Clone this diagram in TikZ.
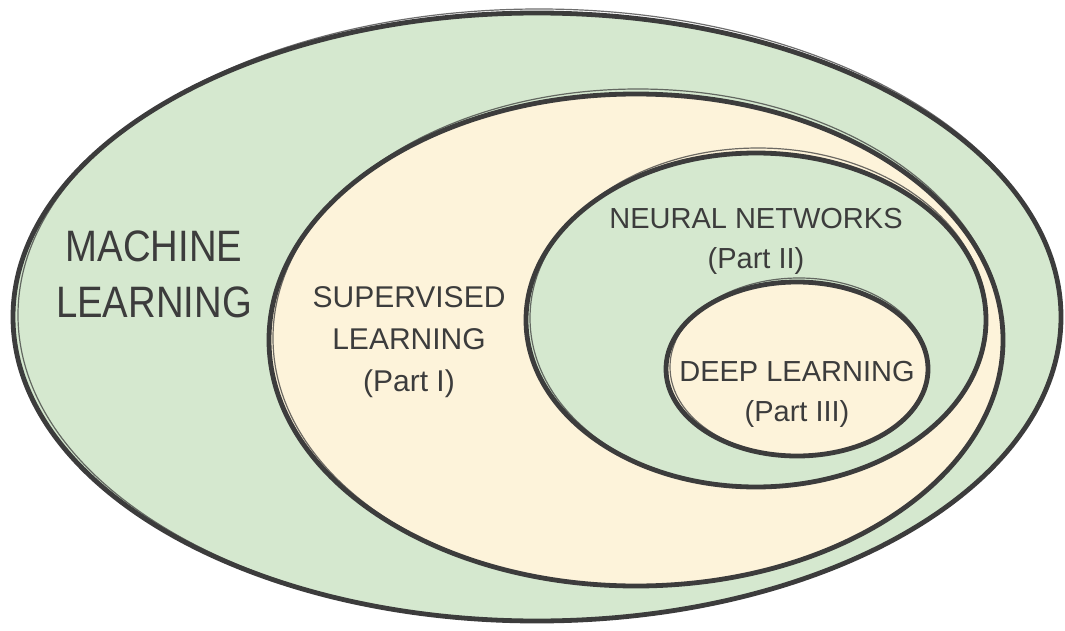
\documentclass[tikz,border=0pt]{standalone}
\usepackage{fontspec}
\setmainfont{Liberation Sans}
\definecolor{mlgreen}{HTML}{D5E8CF}
\definecolor{slcream}{HTML}{FDF3DA}
\definecolor{ink}{HTML}{3C3C3C}
\begin{document}
\begin{tikzpicture}[x=1pt,y=-1pt,
  rim/.style={draw=ink,line width=4.8pt},
  sketch/.style={draw=ink,line width=1.2pt,opacity=0.75},
  biglabel/.style={text=ink,align=center,font=\fontsize{44}{56}\selectfont,xscale=0.87,transform shape},
  label/.style={text=ink,align=center,font=\fontsize{29}{40}\selectfont},
  sllabel/.style={text=ink,align=center,font=\fontsize{30}{42}\selectfont}]
\useasboundingbox (0,0) rectangle (1065,631);
% outer: machine learning
\fill[mlgreen] (537,317) ellipse [x radius=524,y radius=304];
\draw[rim] (537,317) ellipse [x radius=524,y radius=304];
\draw[sketch] (539,315) ellipse [x radius=521,y radius=306];
% supervised learning
\fill[slcream] (636,340) ellipse [x radius=367,y radius=246];
\draw[rim] (636,340) ellipse [x radius=367,y radius=246];
\draw[sketch] (638,338) ellipse [x radius=365,y radius=249];
% neural networks
\fill[mlgreen] (756,320) ellipse [x radius=230,y radius=167];
\draw[rim] (756,320) ellipse [x radius=230,y radius=167];
\draw[sketch] (758,318) ellipse [x radius=228,y radius=170];
% deep learning
\fill[slcream] (797,369) ellipse [x radius=131,y radius=87];
\draw[rim] (797,369) ellipse [x radius=131,y radius=87];
\draw[sketch] (799,367) ellipse [x radius=129,y radius=89];
% labels
\node[biglabel] (ml) at (154,274) {MACHINE\\LEARNING};
\node[sllabel] (sl) at (409,342) {SUPERVISED\\LEARNING\\(Part I)};
\node[label] (nn) at (756,241) {NEURAL NETWORKS\\(Part II)};
\node[label] (dl) at (797,394) {DEEP LEARNING\\(Part III)};
\end{tikzpicture}
\end{document}
